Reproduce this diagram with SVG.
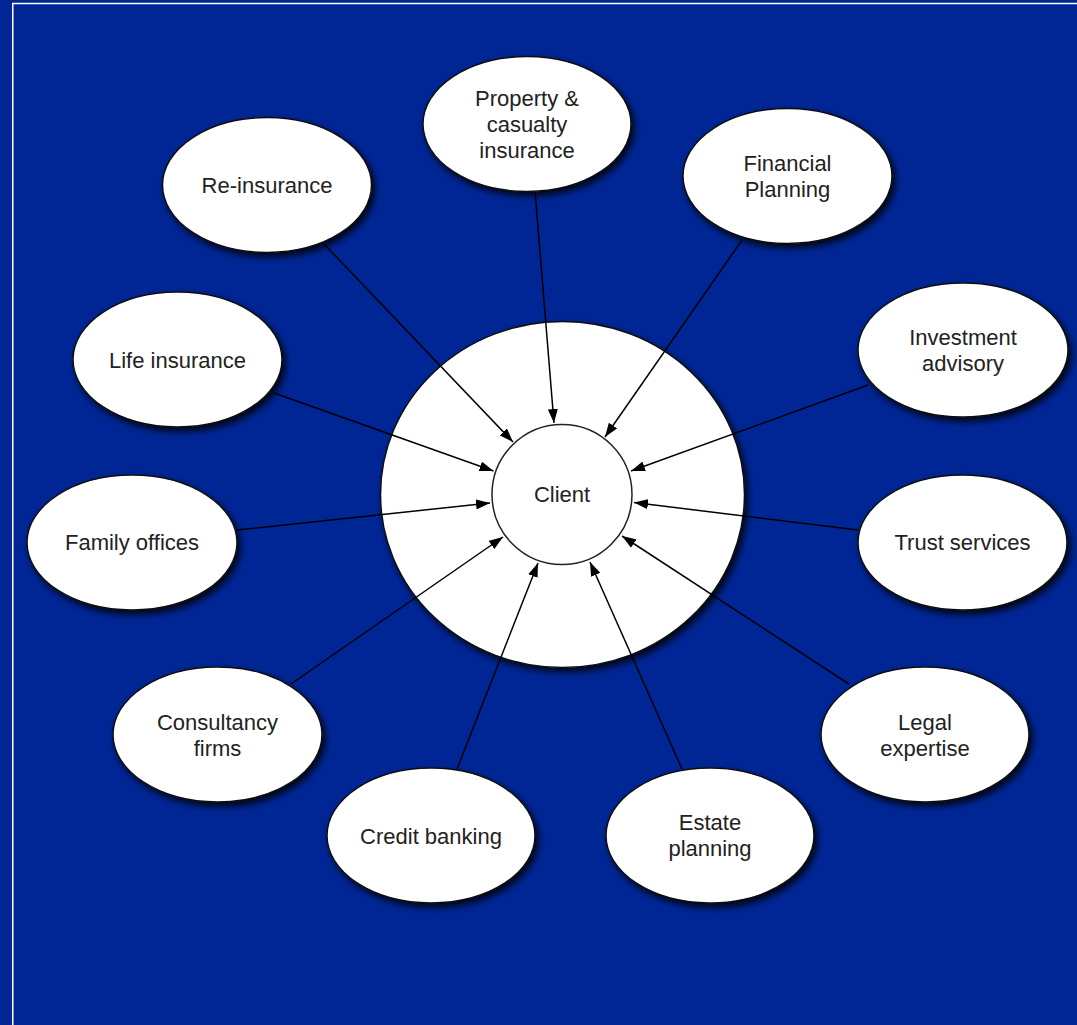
<svg xmlns="http://www.w3.org/2000/svg" width="1077" height="1025" viewBox="0 0 1077 1025">
<style>
.bg{fill:#002696}
.frame{fill:none;stroke:#ffffff;stroke-width:1.5}
.node{fill:#ffffff;stroke:#111111;stroke-width:1.5;filter:url(#sh)}
.hub{fill:#ffffff;stroke:#222222;stroke-width:1.5}
.lbl{font-family:"Liberation Sans",Arial,Helvetica,sans-serif;font-size:22px;fill:#222222;text-anchor:middle}
.conn line{stroke:#000000;stroke-width:1.5;marker-end:url(#ah)}
</style>
<defs>
<filter id="sh" x="-20%" y="-20%" width="150%" height="150%">
<feDropShadow dx="3" dy="4" stdDeviation="3.5" flood-color="#000000" flood-opacity="0.85"/>
</filter>
<marker id="ah" viewBox="0 0 14 10" refX="14" refY="5" markerWidth="14" markerHeight="10" markerUnits="userSpaceOnUse" orient="auto">
<path d="M0,0 L14,5 L0,10 z" fill="#000000"/>
</marker>
</defs>
<rect class="bg" x="0" y="0" width="1077" height="1025"/>
<path class="frame" d="M12.75,1025 L12.75,3.5 L1077,3.5"/>

<g id="outer-ring">
<ellipse class="node" cx="562.5" cy="494.5" rx="182" ry="173"/>
</g>

<g id="connectors" class="conn">
<line x1="325" y1="245" x2="513" y2="442"/>
<line x1="535" y1="191" x2="554" y2="423"/>
<line x1="742" y1="240" x2="605" y2="437"/>
<line x1="868" y1="385" x2="631" y2="471"/>
<line x1="858" y1="530" x2="634" y2="502.5"/>
<line x1="849" y1="684" x2="622" y2="536"/>
<line x1="682" y1="769" x2="590" y2="562"/>
<line x1="457" y1="769" x2="538" y2="563"/>
<line x1="291" y1="684" x2="503" y2="537"/>
<line x1="237" y1="530" x2="490" y2="503"/>
<line x1="274" y1="393" x2="493.5" y2="471"/>
</g>

<g id="client">
<circle class="hub" cx="562" cy="494.5" r="70"/>
<text class="lbl" x="562" y="502">Client</text>
</g>

<g id="reinsurance">
<ellipse class="node" cx="267" cy="185" rx="104.5" ry="67.5"/>
<text class="lbl" x="267" y="193">Re-insurance</text>
</g>
<g id="property">
<ellipse class="node" cx="527" cy="124" rx="104" ry="67.5"/>
<text class="lbl" x="527" y="106">Property &amp;</text>
<text class="lbl" x="527" y="132">casualty</text>
<text class="lbl" x="527" y="158">insurance</text>
</g>
<g id="financial">
<ellipse class="node" cx="787.5" cy="176" rx="104.5" ry="67.5"/>
<text class="lbl" x="787.5" y="171">Financial</text>
<text class="lbl" x="787.5" y="197">Planning</text>
</g>
<g id="investment">
<ellipse class="node" cx="963" cy="350" rx="105" ry="67"/>
<text class="lbl" x="963" y="345">Investment</text>
<text class="lbl" x="963" y="371">advisory</text>
</g>
<g id="life">
<ellipse class="node" cx="177.5" cy="359.5" rx="104.5" ry="67.5"/>
<text class="lbl" x="177.5" y="367.5">Life insurance</text>
</g>
<g id="family">
<ellipse class="node" cx="132" cy="542.5" rx="105" ry="67.5"/>
<text class="lbl" x="132" y="550">Family offices</text>
</g>
<g id="trust">
<ellipse class="node" cx="962.5" cy="542.5" rx="104.5" ry="67.5"/>
<text class="lbl" x="962.5" y="550">Trust services</text>
</g>
<g id="consultancy">
<ellipse class="node" cx="217.5" cy="734.5" rx="104.5" ry="67.5"/>
<text class="lbl" x="217.5" y="729.5">Consultancy</text>
<text class="lbl" x="217.5" y="755.5">firms</text>
</g>
<g id="legal">
<ellipse class="node" cx="925" cy="734.5" rx="104" ry="67.5"/>
<text class="lbl" x="925" y="729.5">Legal</text>
<text class="lbl" x="925" y="755.5">expertise</text>
</g>
<g id="credit">
<ellipse class="node" cx="431" cy="835.5" rx="104" ry="67.5"/>
<text class="lbl" x="431" y="843.5">Credit banking</text>
</g>
<g id="estate">
<ellipse class="node" cx="710" cy="835.5" rx="104" ry="67.5"/>
<text class="lbl" x="710" y="830">Estate</text>
<text class="lbl" x="710" y="856">planning</text>
</g>
</svg>
